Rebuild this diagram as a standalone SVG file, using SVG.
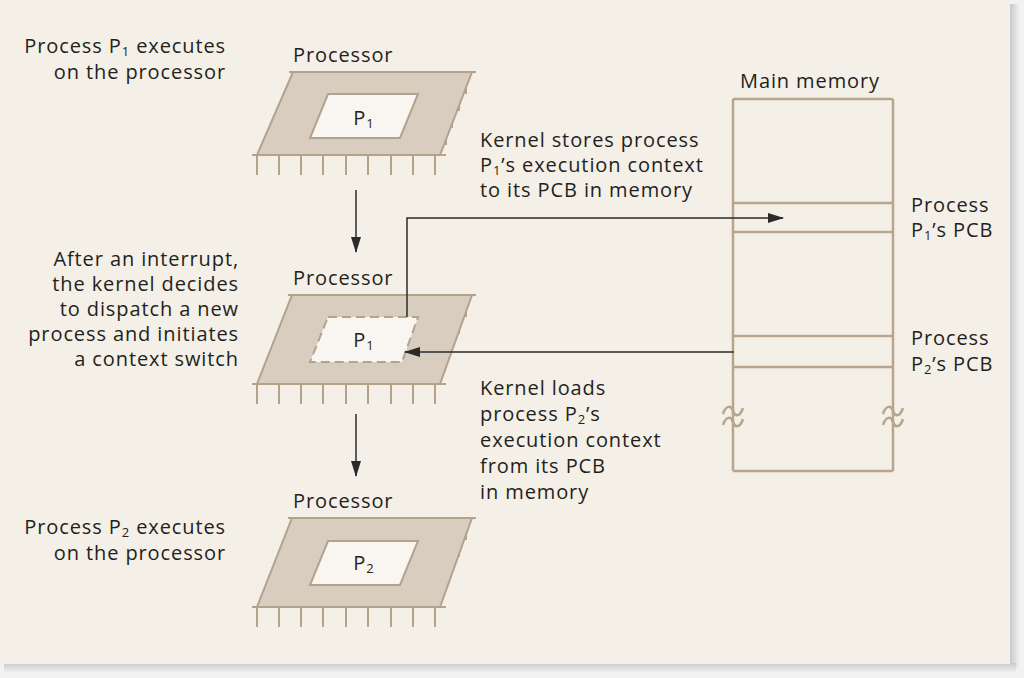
<svg xmlns="http://www.w3.org/2000/svg" width="1024" height="678" viewBox="0 0 1024 678">
<defs>
<marker id="ah" markerWidth="16" markerHeight="10" refX="15" refY="5" orient="auto" markerUnits="userSpaceOnUse">
<path d="M0,0 L16,5 L0,10 Z" fill="#2b2b2b"/>
</marker>
<linearGradient id="shR" x1="0" y1="0" x2="1" y2="0">
<stop offset="0" stop-color="#c9c9c9"/><stop offset="1" stop-color="#f2f2f2"/>
</linearGradient>
<linearGradient id="shB" x1="0" y1="0" x2="0" y2="1">
<stop offset="0" stop-color="#c9c9c9"/><stop offset="1" stop-color="#f2f2f2"/>
</linearGradient>
</defs>
<style>
text{font-family:"Open Sans","Noto Sans","DejaVu Sans",sans-serif;font-size:20px;letter-spacing:0.9px;fill:#231f20}
.end{text-anchor:end}
.mid{text-anchor:middle}
.sub{font-size:13px}
.chip{fill:#d8cdbf;stroke:#b3a28c;stroke-width:2}
.win{fill:#f9f6f1;stroke:#b3a28c;stroke-width:2}
.winD{fill:#f9f6f1;stroke:#b3a28c;stroke-width:2;stroke-dasharray:9,5}
.pin{stroke:#b3a28c;stroke-width:2;fill:none}
.mem{stroke:#b8a58d;stroke-width:2.5;fill:none}
.conn{stroke:#2b2b2b;stroke-width:1.5;fill:none}
</style>
<rect x="0" y="0" width="1024" height="678" fill="#f2f2f2"/>
<rect x="1010" y="4" width="10" height="664" fill="url(#shR)"/>
<rect x="4" y="663" width="1012" height="10" fill="url(#shB)"/>
<rect x="0" y="0" width="1010" height="664" fill="#f4efe7"/>

<g id="label-p1-exec">
<text class="end" x="226" y="53">Process P<tspan class="sub" dy="3">1</tspan><tspan dy="-3"> executes</tspan></text>
<text class="end" x="226" y="79">on the processor</text>
</g>
<g id="label-interrupt">
<text class="end" x="239" y="266">After an interrupt,</text>
<text class="end" x="239" y="291">the kernel decides</text>
<text class="end" x="239" y="316">to dispatch a new</text>
<text class="end" x="239" y="341">process and initiates</text>
<text class="end" x="239" y="366">a context switch</text>
</g>
<g id="label-p2-exec">
<text class="end" x="226" y="534">Process P<tspan class="sub" dy="3">2</tspan><tspan dy="-3"> executes</tspan></text>
<text class="end" x="226" y="560">on the processor</text>
</g>

<g id="processor1">
<text x="293" y="62">Processor</text>
<path class="pin" d="M257,155 v20 M279,155 v20 M301,155 v20 M323,155 v20 M346,155 v20 M368,155 v20 M391,155 v20 M413,155 v20 M435,155 v20 M466,86 v8 M459,103 v8 M452,120 v8 M446,137 v8"/>
<polygon class="chip" points="293,72 472,72 440,155 257,155"/>
<path class="pin" d="M252,155 H446 M289,72 H476"/>
<polygon class="win" points="328,94 418,94 400,138 310,138"/>
<text class="mid" x="364" y="125">P<tspan class="sub" dy="3">1</tspan></text>
</g>

<g id="processor2">
<text x="293" y="285">Processor</text>
<path class="pin" d="M257,384 v20 M279,384 v20 M301,384 v20 M323,384 v20 M346,384 v20 M368,384 v20 M391,384 v20 M413,384 v20 M435,384 v20 M466,309 v8 M459,326 v8 M452,343 v8 M446,360 v8"/>
<polygon class="chip" points="292,295 472,295 440,384 257,384"/>
<path class="pin" d="M252,384 H446 M288,295 H476"/>
<polygon class="winD" points="328,317 418,317 402,362 310,362"/>
<text class="mid" x="364" y="347">P<tspan class="sub" dy="3">1</tspan></text>
</g>

<g id="processor3">
<text x="293" y="508">Processor</text>
<path class="pin" d="M257,607 v20 M279,607 v20 M301,607 v20 M323,607 v20 M346,607 v20 M368,607 v20 M391,607 v20 M413,607 v20 M435,607 v20 M466,532 v8 M459,549 v8 M452,566 v8 M446,583 v8"/>
<polygon class="chip" points="292,518 472,518 440,607 257,607"/>
<path class="pin" d="M252,607 H446 M288,518 H476"/>
<polygon class="win" points="328,541 418,541 400,585 310,585"/>
<text class="mid" x="364" y="570">P<tspan class="sub" dy="3">2</tspan></text>
</g>

<g id="main-memory">
<text x="740" y="88">Main memory</text>
<path class="mem" d="M733,99 H893 M733,99 V471 M893,99 V471 M733,203 H893 M733,232 H893 M733,336 H893 M733,367 H893 M733,471 H893"/>
<path class="mem" stroke-width="2" d="M723,414 c3,-9 8,-9 10,-3 s7,6 10,-3 M723,425 c3,-9 8,-9 10,-3 s7,6 10,-3 M883,414 c3,-9 8,-9 10,-3 s7,6 10,-3 M883,425 c3,-9 8,-9 10,-3 s7,6 10,-3"/>
<text x="911" y="212">Process</text>
<text x="911" y="237">P<tspan class="sub" dy="3">1</tspan><tspan dy="-3">’s PCB</tspan></text>
<text x="911" y="345">Process</text>
<text x="911" y="371">P<tspan class="sub" dy="3">2</tspan><tspan dy="-3">’s PCB</tspan></text>
</g>

<g id="label-stores">
<text x="480" y="147">Kernel stores process</text>
<text x="480" y="172">P<tspan class="sub" dy="3">1</tspan><tspan dy="-3">’s execution context</tspan></text>
<text x="480" y="197">to its PCB in memory</text>
</g>
<g id="label-loads">
<text x="480" y="395">Kernel loads</text>
<text x="480" y="421">process P<tspan class="sub" dy="3">2</tspan><tspan dy="-3">’s</tspan></text>
<text x="480" y="447">execution context</text>
<text x="480" y="473">from its PCB</text>
<text x="480" y="499">in memory</text>
</g>

<g id="connectors">
<path class="conn" d="M356,190 V252" marker-end="url(#ah)"/>
<path class="conn" d="M356,414 V476" marker-end="url(#ah)"/>
<path class="conn" d="M407,317 V218 H783" marker-end="url(#ah)"/>
<path class="conn" d="M734,352 H405" marker-end="url(#ah)"/>
</g>
</svg>
